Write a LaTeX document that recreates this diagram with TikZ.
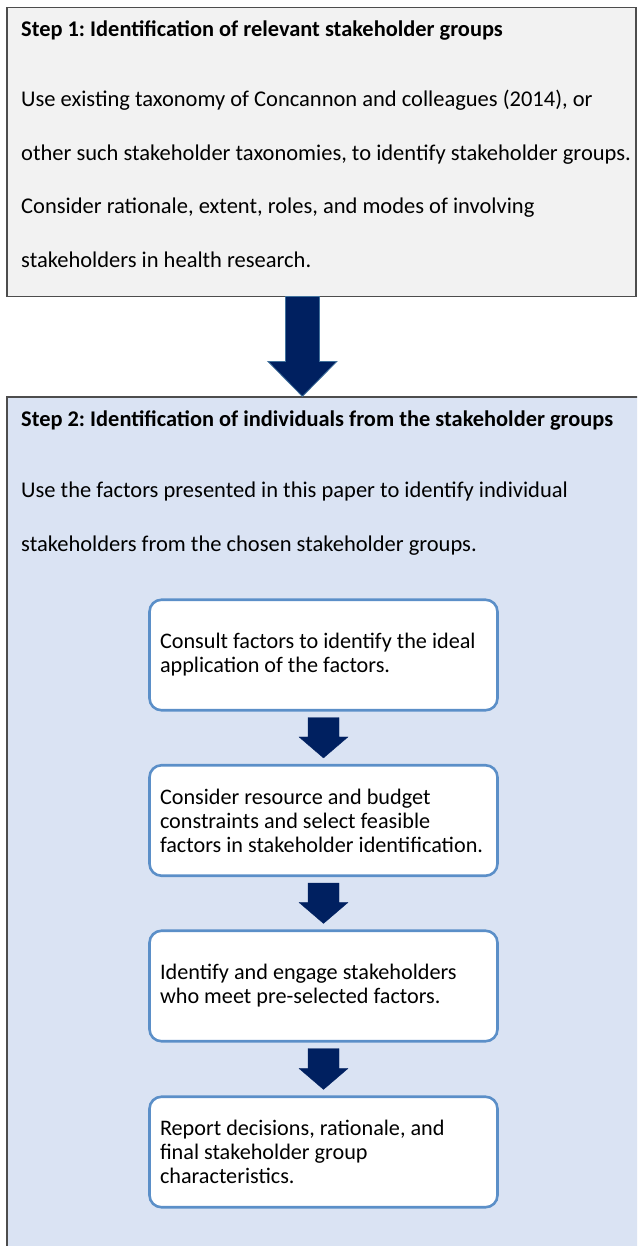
\documentclass[tikz,border=0pt]{standalone}
\usepackage{fontspec}
\setmainfont{Carlito}
\usetikzlibrary{calc}
\frenchspacing
\definecolor{stepone}{HTML}{F2F2F2}
\definecolor{steptwo}{HTML}{DAE3F3}
\definecolor{frame}{HTML}{4D4D4D}
\definecolor{boxblue}{HTML}{5B8FC8}
\definecolor{navy}{HTML}{002060}
\definecolor{navyedge}{HTML}{41719C}
\tikzset{
  stepbox/.style={draw=frame, line width=1.2pt, inner sep=0pt},
  linetext/.style={anchor=base west, inner sep=0pt, font=\fontsize{22.5}{24}\selectfont},
  titletext/.style={linetext, font=\fontsize{22.4}{24}\selectfont\bfseries},
  flowbox/.style={draw=boxblue, line width=2.6pt, fill=white, rounded corners=12pt,
    minimum width=348pt, minimum height=110.5pt, text width=327pt, inner xsep=0pt,
    align=flush left, font=\fontsize{22.2}{24}\selectfont},
  bigarrow/.style={fill=navy, draw=navyedge, line width=0.8pt},
  smallarrow/.style={fill=navy, draw=navy, line width=0.3pt}
}
% block arrow from #1 (top) to #2 (tip): #3 shaft half width, #4 head half width, #5 head length, #6 style
\newcommand\blockarrow[6]{%
  \path[#6] let \p1=(#1), \p2=(#2) in
    (\x1-#3,\y1) -- (\x1+#3,\y1) -- (\x1+#3,\y2+#5) -- (\x1+#4,\y2+#5) -- (\x2,\y2)
    -- (\x1-#4,\y2+#5) -- (\x1-#3,\y2+#5) -- cycle;}
\begin{document}
\begin{tikzpicture}[x=1pt,y=-1pt]
\useasboundingbox (0,0) rectangle (637,1246);
\clip (0,0) rectangle (637,1246);
% step boxes
\node[stepbox, fill=stepone, minimum width=629pt, minimum height=289pt] (s1) at (321.5,152) {};
\node[stepbox, fill=steptwo, minimum width=660pt, minimum height=880pt] (s2) at (337,837) {};
% step 1 text
\node[titletext] (t1) at (21,37) {Step 1: Identification of relevant stakeholder groups};
\node[linetext] (l1a) at (21,106.5) {Use existing taxonomy of Concannon and colleagues (2014), or};
\node[linetext] (l1b) at (21,160.5) {other such stakeholder taxonomies, to identify stakeholder groups.};
\node[linetext] (l1c) at (21,214) {Consider rationale, extent, roles, and modes of involving};
\node[linetext] (l1d) at (21,267.5) {stakeholders in health research.};
% step 2 text
\node[titletext] (t2) at (21,426) {Step 2: Identification of individuals from the stakeholder groups};
\node[linetext] (l2a) at (21,497.5) {Use the factors presented in this paper to identify individual};
\node[linetext] (l2b) at (21,551.5) {stakeholders from the chosen stakeholder groups.};
% big arrow
\coordinate (bigtop) at ($(s1.south west)+(296,-0.5)$);
\coordinate (bigtip) at (bigtop |- s2.north);
\blockarrow{bigtop}{bigtip}{17pt}{34.5pt}{35pt}{bigarrow}
% flow boxes
\node[flowbox] (b1) at (323.5,655) {\mbox{Consult factors to identify the ideal}\\\mbox{application of the factors.}};
\node[flowbox] (b2) at (323.5,820.5) {\mbox{Consider resource and budget}\\\mbox{constraints and select feasible}\\\mbox{factors in stakeholder identification.}};
\node[flowbox] (b3) at (323.5,986) {\mbox{Identify and engage stakeholders}\\\mbox{who meet pre-selected factors.}};
\node[flowbox] (b4) at (323.5,1152) {\mbox{Report decisions, rationale, and}\\\mbox{final stakeholder group}\\\mbox{characteristics.}};
% small arrows
\foreach \a/\b in {b1/b2, b2/b3, b3/b4}{
  \coordinate (top-\a) at ($(\a.south)+(0,6)$);
  \coordinate (tip-\b) at ($(\b.north)+(0,-6)$);
  \blockarrow{top-\a}{tip-\b}{15.5pt}{24.5pt}{21pt}{smallarrow}
}
\end{tikzpicture}
\end{document}
